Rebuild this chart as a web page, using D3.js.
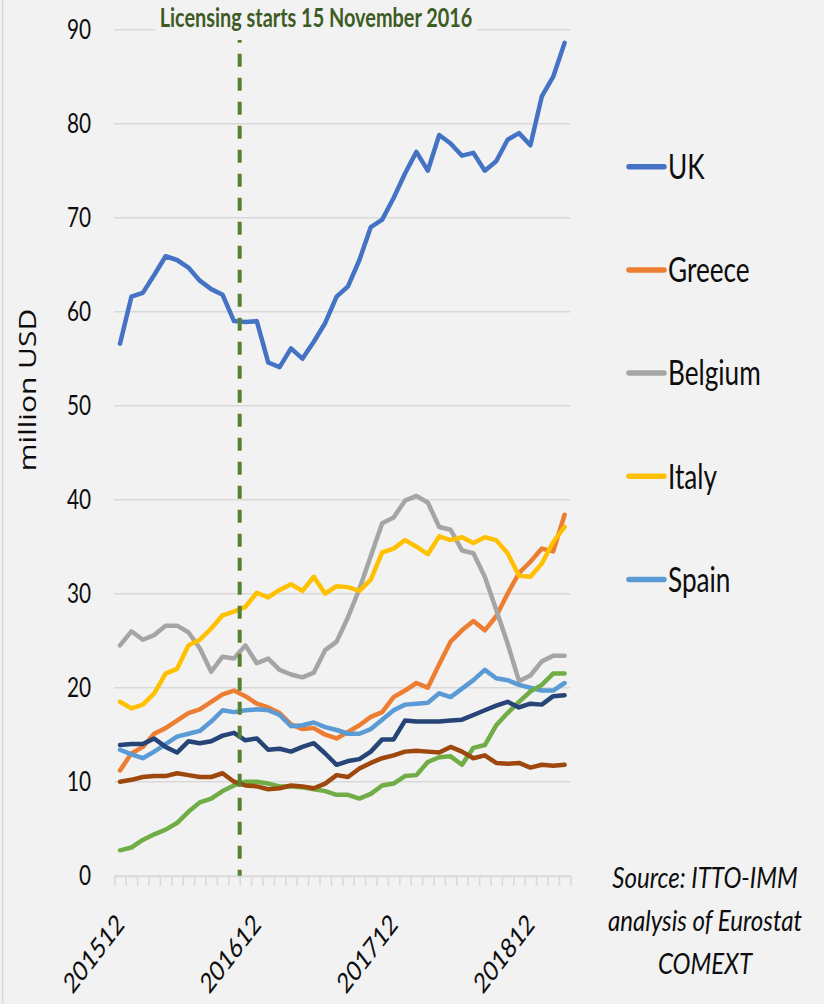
<!DOCTYPE html>
<html>
<head>
<meta charset="utf-8">
<script src="https://cdn.jsdelivr.net/npm/d3@7"></script>
<style>
    html, body { margin: 0; padding: 0; background: #f2f2f2; }
    svg { display: block; }
</style>
</head>
<body>
<div class="chart-container"></div>
<script>
const months = [
    '201512',
    '201601', '201602', '201603', '201604', '201605', '201606',
    '201607', '201608', '201609', '201610', '201611', '201612',
    '201701', '201702', '201703', '201704', '201705', '201706',
    '201707', '201708', '201709', '201710', '201711', '201712',
    '201801', '201802', '201803', '201804', '201805', '201806',
    '201807', '201808', '201809', '201810', '201811', '201812',
    '201901', '201902', '201903'
];
const labelledMonths = ['201512', '201612', '201712', '201812'];

const uk = [56.6, 61.6, 62.0, 63.9, 65.9, 65.5, 64.7, 63.3, 62.4, 61.8, 59.0, 58.9, 59.0, 54.6, 54.1, 56.1, 55.0, 56.8, 58.8, 61.6,
    62.7, 65.5, 69.0, 69.8, 72.1, 74.7, 77.0, 75.0, 78.8, 77.9, 76.6, 76.9, 75.0, 76.0, 78.3, 79.0, 77.7, 82.9, 85.0, 88.6];
const greece = [11.2, 13.0, 13.7, 15.1, 15.7, 16.5, 17.3, 17.7, 18.5, 19.3, 19.7, 19.1, 18.3, 17.9, 17.3, 16.1, 15.6, 15.7, 15.0, 14.6,
    15.3, 16.0, 16.9, 17.4, 19.0, 19.7, 20.5, 20.0, 22.5, 24.9, 26.1, 27.1, 26.1, 27.6, 30.0, 32.2, 33.4, 34.8, 34.5, 38.4];
const belgium = [24.5, 26.0, 25.1, 25.6, 26.6, 26.6, 25.9, 24.2, 21.7, 23.3, 23.1, 24.5, 22.6, 23.1, 21.9, 21.4, 21.1, 21.6, 24.0, 24.9,
    27.5, 30.5, 34.0, 37.5, 38.1, 39.9, 40.4, 39.7, 37.1, 36.8, 34.6, 34.3, 31.8, 28.3, 24.7, 20.7, 21.3, 22.8, 23.4, 23.4];
const italy = [18.5, 17.8, 18.2, 19.4, 21.5, 22.0, 24.5, 25.1, 26.3, 27.7, 28.1, 28.6, 30.1, 29.6, 30.4, 31.0, 30.3, 31.8, 30.0, 30.8,
    30.7, 30.3, 31.5, 34.4, 34.8, 35.7, 35.0, 34.2, 36.1, 35.7, 36.0, 35.4, 36.0, 35.7, 34.3, 31.9, 31.8, 33.2, 35.5, 37.1];
const spain = [13.4, 12.9, 12.5, 13.2, 14.0, 14.8, 15.1, 15.4, 16.4, 17.6, 17.4, 17.6, 17.7, 17.6, 17.1, 15.9, 16.0, 16.3, 15.8, 15.5,
    15.1, 15.1, 15.6, 16.6, 17.6, 18.2, 18.3, 18.4, 19.4, 19.0, 19.9, 20.8, 21.9, 21.0, 20.8, 20.3, 20.0, 19.7, 19.7, 20.5];
// the last three series have no entry in the visible legend
const seriesSix = [2.7, 3.0, 3.8, 4.4, 4.9, 5.6, 6.8, 7.8, 8.2, 9.0, 9.6, 10.0, 10.0, 9.8, 9.5, 9.5, 9.4, 9.2, 9.0, 8.6,
    8.6, 8.2, 8.7, 9.6, 9.8, 10.6, 10.7, 12.1, 12.6, 12.7, 11.8, 13.6, 13.9, 16.0, 17.3, 18.5, 19.6, 20.3, 21.5, 21.5];
const seriesSeven = [13.9, 14.0, 14.0, 14.6, 13.7, 13.1, 14.3, 14.1, 14.3, 14.9, 15.2, 14.4, 14.6, 13.4, 13.5, 13.2, 13.7, 14.1, 13.0, 11.8,
    12.2, 12.4, 13.2, 14.5, 14.5, 16.5, 16.4, 16.4, 16.4, 16.5, 16.6, 17.1, 17.6, 18.1, 18.5, 17.9, 18.3, 18.2, 19.1, 19.2];
const seriesEight = [10.0, 10.2, 10.5, 10.6, 10.6, 10.9, 10.7, 10.5, 10.5, 10.9, 10.0, 9.6, 9.5, 9.2, 9.3, 9.6, 9.5, 9.3, 9.8, 10.7,
    10.5, 11.4, 12.0, 12.5, 12.8, 13.2, 13.3, 13.2, 13.1, 13.7, 13.2, 12.5, 12.8, 12.0, 11.9, 12.0, 11.5, 11.8, 11.7, 11.8];

const yTicks = [0, 10, 20, 30, 40, 50, 60, 70, 80, 90];
// licensing start sits on the tick between Oct and Nov 2016
const licensingAt = 10.5;
const licensingLabel = 'Licensing starts 15 November 2016';
const yTitle = 'million USD';
const sourceLines = ['Source: ITTO-IMM', 'analysis of Eurostat', 'COMEXT'];

const series = [
    { name: 'UK', color: '#4472C4', values: uk },
    { name: 'Greece', color: '#ED7D31', values: greece },
    { name: 'Belgium', color: '#A5A5A5', values: belgium },
    { name: 'Italy', color: '#FFC000', values: italy },
    { name: 'Spain', color: '#5B9BD5', values: spain },
    { name: null, color: '#70AD47', values: seriesSix },
    { name: null, color: '#264478', values: seriesSeven },
    { name: null, color: '#9E480E', values: seriesEight }
];

const width = 824;
const height = 1004;
const font = 'Lato, "Open Sans", sans-serif';
const gridColor = '#d9d9d9';
const textColor = '#0d0d0d';
// the picture is narrower than its text, so every label is squeezed sideways
const squash = 0.77;

const x = d3.scaleLinear()
    .domain([-0.5, months.length - 0.5])
    .range([114.3, 570.3]);
const y = d3.scaleLinear()
    .domain([0, 90])
    .range([875.7, 29.7]);

const svg = d3.select('.chart-container')
    .append('svg')
    .attr('width', width)
    .attr('height', height);

svg.append('rect')
    .attr('width', width)
    .attr('height', height)
    .attr('fill', '#f2f2f2');

svg.append('line')
    .attr('x1', 2.7).attr('x2', 2.7)
    .attr('y1', 0).attr('y2', height)
    .attr('stroke', gridColor)
    .attr('stroke-width', 1.5);

// gridlines
svg.append('g')
    .selectAll('line')
    .data(yTicks.filter(d => d > 0))
    .enter()
    .append('line')
    .attr('x1', x.range()[0])
    .attr('x2', x.range()[1])
    .attr('y1', d => y(d))
    .attr('y2', d => y(d))
    .attr('stroke', gridColor)
    .attr('stroke-width', 1.6);

// category axis with a tick between every month
const xAxis = d3.axisBottom(x)
    .tickValues(d3.range(-0.5, months.length, 1))
    .tickFormat('')
    .tickSize(10)
    .tickSizeOuter(0);

const axisG = svg.append('g')
    .attr('transform', `translate(0,${y(0)})`)
    .call(xAxis);
axisG.select('.domain').attr('stroke', gridColor).attr('stroke-width', 2);
axisG.selectAll('.tick line').attr('stroke', gridColor).attr('stroke-width', 1.6);

svg.append('g')
    .selectAll('text')
    .data(yTicks)
    .enter()
    .append('text')
    .attr('transform', d => `translate(91,${y(d)}) scale(${squash},1)`)
    .attr('dy', '0.36em')
    .attr('text-anchor', 'end')
    .style('font-family', font)
    .style('font-size', '27px')
    .attr('fill', textColor)
    .text(d => d);

svg.append('g')
    .selectAll('text')
    .data(labelledMonths)
    .enter()
    .append('text')
    .attr('transform', d => `translate(${x(months.indexOf(d))},919) scale(${squash},1) rotate(-45)`)
    .attr('dy', '0.36em')
    .attr('text-anchor', 'end')
    .style('font-family', font)
    .style('font-size', '28px')
    .attr('fill', textColor)
    .text(d => d);

svg.append('text')
    .attr('transform', `translate(36,390) scale(${squash},1) rotate(-90)`)
    .attr('text-anchor', 'middle')
    .style('font-family', '"Open Sans", sans-serif')
    .style('font-size', '30px')
    .attr('fill', textColor)
    .text(yTitle);

const line = d3.line()
    .x((d, i) => x(i))
    .y(d => y(d));

svg.append('g')
    .attr('class', 'lines')
    .selectAll('path')
    .data(series)
    .enter()
    .append('path')
    .attr('d', d => line(d.values))
    .attr('fill', 'none')
    .attr('stroke', d => d.color)
    .attr('stroke-width', 4.5)
    .attr('stroke-linejoin', 'round')
    .attr('stroke-linecap', 'round');

svg.append('line')
    .attr('x1', x(licensingAt))
    .attr('x2', x(licensingAt))
    .attr('y1', y(90))
    .attr('y2', y(0))
    .attr('stroke', '#548235')
    .attr('stroke-width', 4)
    .attr('stroke-dasharray', '13, 11');

// the label box hides the top gridline and the top of the dashed line
svg.append('rect')
    .attr('x', 155.7)
    .attr('y', 0)
    .attr('width', 477 - 155.7)
    .attr('height', 40)
    .attr('fill', '#f2f2f2');

svg.append('text')
    .attr('transform', `translate(316,26.7) scale(0.765,1)`)
    .attr('text-anchor', 'middle')
    .style('font-family', font)
    .style('font-size', '26px')
    .style('font-weight', 'bold')
    .attr('fill', '#3d5c24')
    .text(licensingLabel);

const legendItems = series.filter(d => d.name);
const legend = svg.append('g')
    .selectAll('g')
    .data(legendItems)
    .enter()
    .append('g')
    .attr('transform', (d, i) => `translate(627,${166.7 + i * 103.2})`);

legend.append('line')
    .attr('x1', 2)
    .attr('x2', 37)
    .attr('stroke', d => d.color)
    .attr('stroke-width', 5.5)
    .attr('stroke-linecap', 'round');

legend.append('text')
    .attr('transform', `translate(41,0) scale(${squash},1)`)
    .attr('dy', '0.36em')
    .style('font-family', font)
    .style('font-size', '34px')
    .attr('fill', textColor)
    .text(d => d.name);

svg.append('g')
    .selectAll('text')
    .data(sourceLines)
    .enter()
    .append('text')
    .attr('transform', (d, i) => `translate(705,${888 + i * 43}) scale(0.86,1)`)
    .attr('text-anchor', 'middle')
    .style('font-family', font)
    .style('font-size', '28px')
    .style('font-style', 'italic')
    .attr('fill', textColor)
    .text(d => d);
</script>
</body>
</html>
